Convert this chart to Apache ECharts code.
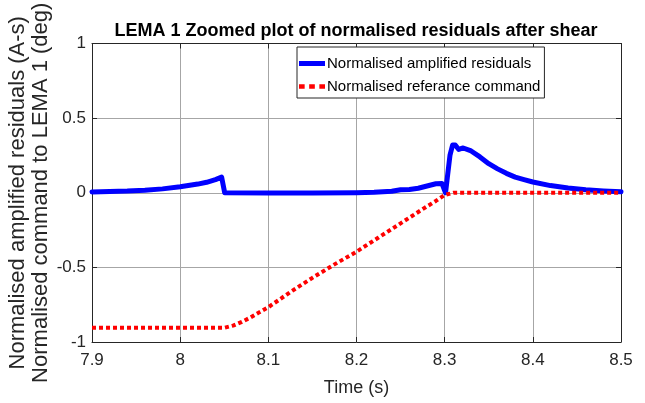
<!DOCTYPE html>
<html>
<head>
<meta charset="utf-8">
<script src="https://cdn.jsdelivr.net/npm/echarts@6/dist/echarts.min.js"></script>
<style>
  html, body { margin: 0; padding: 0; background: #fff; }
  #chart { width: 645px; height: 403px; }
</style>
</head>
<body>
<div id="chart"></div>
<script>
// Time stamps (s) and normalised amplified residuals
const residualTime = [7.9, 7.92, 7.94, 7.96, 7.98, 8.0, 8.02, 8.03, 8.04, 8.047, 8.0485, 8.0505,
  8.1, 8.15, 8.2, 8.22, 8.24, 8.25, 8.26, 8.27, 8.28, 8.29, 8.297, 8.301, 8.303, 8.306, 8.309,
  8.312, 8.316, 8.321, 8.33, 8.34, 8.35, 8.36, 8.37, 8.38, 8.39, 8.4, 8.42, 8.44, 8.46, 8.48, 8.5];
const residualValue = [0.005, 0.008, 0.011, 0.017, 0.026, 0.04, 0.058, 0.07, 0.088, 0.105, 0.11, 0.0,
  -0.002, -0.002, 0.0, 0.003, 0.01, 0.02, 0.022, 0.03, 0.045, 0.06, 0.062, 0.0, 0.1, 0.25, 0.32,
  0.32, 0.29, 0.30, 0.28, 0.24, 0.195, 0.16, 0.13, 0.105, 0.088, 0.072, 0.048, 0.032, 0.02, 0.012, 0.006];

// Time stamps (s) and normalised reference command
const commandTime = [7.9, 8.05, 8.06, 8.07, 8.08, 8.09, 8.1, 8.125, 8.15, 8.175, 8.2, 8.225,
  8.25, 8.275, 8.29, 8.3, 8.31, 8.4, 8.5];
const commandValue = [-0.905, -0.905, -0.89, -0.865, -0.835, -0.80, -0.767, -0.665, -0.57, -0.48,
  -0.395, -0.30, -0.205, -0.11, -0.055, -0.015, 0, 0, 0];

const xTicks = [7.9, 8.5, 0.1];   // min, max, step
const yTicks = [-1, 1, 0.5];

const residualName = 'Normalised amplified residuals';
const commandName = 'Normalised referance command';

const pair = (xs, ys) => xs.map((x, i) => [x, ys[i]]);

const textColor = '#262626';
const font = 'Liberation Sans, Arial, sans-serif';

// legend glyphs: solid bar for the residuals, three short dashes for the command
const solidIcon = 'rect';
const dottedIcon = 'path://M0,0h5v4h-5z M9,0h5v4h-5z M18,0h5v4h-5z';

const chart = echarts.init(document.getElementById('chart'), null, { renderer: 'canvas' });

const baseX = {
  type: 'value', min: xTicks[0], max: xTicks[1], interval: xTicks[2],
  axisLine: { show: true, onZero: false, lineStyle: { color: textColor, width: 1 } },
  axisTick: { show: true, inside: true, length: 5, lineStyle: { color: textColor } },
  splitLine: { show: false }
};
const baseY = {
  type: 'value', min: yTicks[0], max: yTicks[1], interval: yTicks[2],
  axisLine: { show: true, onZero: false, lineStyle: { color: textColor, width: 1 } },
  axisTick: { show: true, inside: true, length: 5, lineStyle: { color: textColor } },
  splitLine: { show: false }
};

chart.setOption({
  animation: false,
  backgroundColor: '#fff',
  textStyle: { fontFamily: font },
  title: {
    text: 'LEMA 1 Zoomed plot of normalised residuals after shear',
    left: 351, top: 17, textAlign: 'center',
    textStyle: { fontSize: 18, fontWeight: 'bold', color: '#000', fontFamily: font }
  },
  grid: { left: 92, right: 24, top: 43.5, bottom: 61, containLabel: false, outerBoundsMode: 'none' },
  legend: {
    left: 297, top: 47, orient: 'vertical',
    padding: [8, 4, 3, 2], itemGap: 6, itemWidth: 26, itemHeight: 5,
    backgroundColor: '#fff', borderColor: textColor, borderWidth: 1,
    textStyle: { fontSize: 15, lineHeight: 17, color: '#000', fontFamily: font, padding: [0, 0, 0, -3] },
    data: [
      { name: residualName, icon: solidIcon },
      { name: commandName, icon: dottedIcon }
    ]
  },
  xAxis: [
    Object.assign({}, baseX, {
      position: 'bottom',
      axisLabel: { show: true, fontSize: 17, color: textColor, margin: 10, fontFamily: font },
      splitLine: { show: true, lineStyle: { color: '#a6a6a6', width: 1 } },
      name: 'Time (s)', nameLocation: 'middle', nameGap: 37, nameMoveOverlap: false,
      nameTextStyle: { fontSize: 18, color: textColor, fontFamily: font }
    }),
    Object.assign({}, baseX, { position: 'top', axisLabel: { show: false } })
  ],
  yAxis: [
    Object.assign({}, baseY, {
      position: 'left',
      axisLabel: { show: true, fontSize: 17, color: textColor, margin: 6, fontFamily: font },
      splitLine: { show: true, lineStyle: { color: '#a6a6a6', width: 1 } },
      name: 'Normalised amplified residuals (A-s)\nNormalised command to LEMA 1 (deg)',
      nameLocation: 'middle', nameRotate: 90, nameGap: 40, nameMoveOverlap: false,
      nameTextStyle: { fontSize: 22, color: textColor, lineHeight: 23, fontFamily: font }
    }),
    Object.assign({}, baseY, { position: 'right', axisLabel: { show: false } })
  ],
  series: [
    {
      name: residualName, type: 'line', xAxisIndex: 0, yAxisIndex: 0,
      data: pair(residualTime, residualValue),
      showSymbol: false, symbol: 'none', smooth: false, z: 3,
      color: '#0000ff',
      lineStyle: { color: '#0000ff', width: 5, join: 'round', cap: 'round' }
    },
    {
      name: commandName, type: 'line', xAxisIndex: 0, yAxisIndex: 0,
      data: pair(commandTime, commandValue),
      showSymbol: false, symbol: 'none', smooth: false, z: 4,
      color: '#ff0000',
      lineStyle: { color: '#ff0000', width: 4, type: [4, 3], cap: 'butt' }
    }
  ]
});
</script>
</body>
</html>
